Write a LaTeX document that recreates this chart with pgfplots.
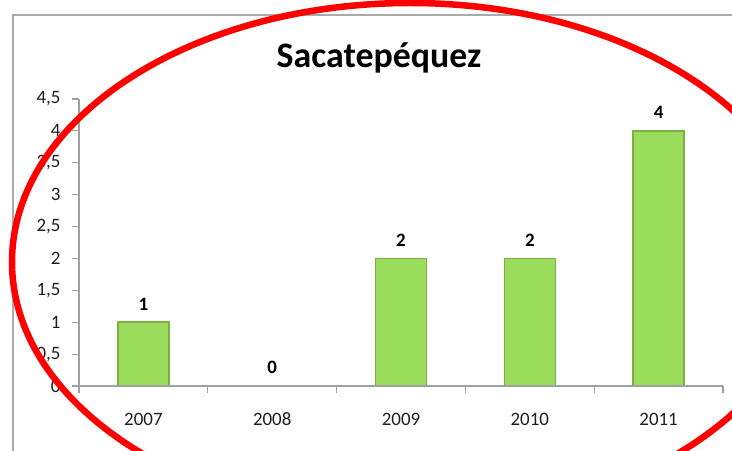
\documentclass[border=0pt]{standalone}
\usepackage{pgfplots}
\pgfplotsset{compat=1.18}
\usepackage{fontspec}
\setmainfont{Carlito}
\definecolor{barfill}{RGB}{156,220,92}
\definecolor{baredge}{RGB}{122,176,66}
\definecolor{axgray}{RGB}{160,160,160}
\definecolor{framegray}{RGB}{170,170,170}
\definecolor{txt}{RGB}{30,30,30}
\begin{document}
\begin{tikzpicture}
\useasboundingbox (0,0) rectangle (732bp,451bp);
\clip (0,0) rectangle (732bp,451bp);
\fill[white] (0,0) rectangle (732bp,451bp);
\draw[framegray, line width=1.5bp] (13bp,0) -- (13bp,436bp) -- (740bp,436bp);
\node[anchor=base, font=\fontsize{36}{40}\selectfont\bfseries, text=black] at (379bp,383bp) {Sacatepéquez};
\begin{axis}[
  at={(79bp,65bp)}, anchor=south west,
  scale only axis, width=644bp, height=287bp,
  xmin=-0.5, xmax=4.5, ymin=0, ymax=4.5,
  axis x line*=bottom, axis y line*=left,
  axis line style={axgray, line width=1.2bp},
  axis on top,
  tick align=outside,
  major tick length=7bp,
  tick style={axgray, line width=1.2bp},
  ytick={0,0.5,...,4.5},
  yticklabel={\pgfmathprintnumber[fixed,use comma,assume math mode=true]{\tick}},
  yticklabel style={xshift=-8bp},
  ticklabel style={font=\fontsize{19}{22}\selectfont, text=txt},
  xtick={-0.5,0.5,...,4.5},
  xticklabels={},
  extra x ticks={0,1,2,3,4},
  extra x tick labels={2007,2008,2009,2010,2011},
  extra x tick style={major tick length=0pt, xticklabel style={anchor=base, yshift=-39bp}},
  ybar, bar width=51bp,
  nodes near coords,
  nodes near coords style={font=\fontsize{19}{22}\selectfont\bfseries, text=black, yshift=8bp},
  /pgf/number format/assume math mode=true,
]
\addplot[fill=barfill, draw=baredge, line width=1.6bp] coordinates {(0,1) (1,0) (2,2) (3,2) (4,4)};
\end{axis}
\draw[red, line width=6.5bp] (410bp,189bp) ellipse [x radius=398bp, y radius=259bp];
\end{tikzpicture}
\end{document}
